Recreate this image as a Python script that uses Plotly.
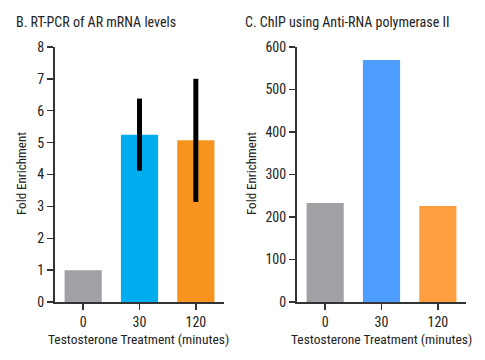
import plotly.graph_objects as go

categories = ["0", "30", "120"]
rt_pcr_values = [1.0, 5.25, 5.07]
rt_pcr_errors = [0, 1.13, 1.93]
chip_values = [233, 569, 226]

left_colors = ["#a1a0a5", "#00adef", "#f7941d"]
right_colors = ["#a1a0a5", "#4d9cff", "#ff9e40"]

FONT = "Roboto Condensed, Roboto, Arial, sans-serif"
AX = "#333333"
TXT = "#222222"
W, H = 485, 360
S = 0.955  # vertical compensation observed in the photographed page


def vy(y):
    return 180 + (y - 180) / S


fig = go.Figure()
fig.add_trace(go.Bar(
    x=categories, y=rt_pcr_values, marker=dict(color=left_colors, line=dict(width=0)),
    width=0.66,
    error_y=dict(type="data", array=rt_pcr_errors, color="black", thickness=5, width=0, visible=True),
    xaxis="x", yaxis="y", showlegend=False))
fig.add_trace(go.Bar(
    x=categories, y=chip_values, marker=dict(color=right_colors, line=dict(width=0)),
    width=0.66, xaxis="x2", yaxis="y2", showlegend=False))

y_dom = [(H - vy(302)) / H, (H - vy(47)) / H]
common_x = dict(type="category", range=[-0.5, 2.5], showline=True, linecolor=AX, linewidth=2,
                ticks="outside", ticklen=6, tickcolor=AX, tickwidth=1.5,
                tickfont=dict(family=FONT, size=14, color=TXT),
                showgrid=False, zeroline=False, fixedrange=True)
common_y = dict(showline=True, linecolor=AX, linewidth=2, ticks="outside", ticklen=6, tickcolor=AX,
                tickwidth=1.5, tickfont=dict(family=FONT, size=14, color=TXT),
                showgrid=False, zeroline=False)


def ann(text, x, y, size, angle=0, xanchor="center"):
    return dict(text=text, x=x / W, y=1 - vy(y) / H, xref="paper", yref="paper",
                xanchor=xanchor, yanchor="middle", showarrow=False, textangle=angle,
                font=dict(family=FONT, size=size, color=TXT))


fig.update_layout(
    width=W, height=H, margin=dict(l=0, r=0, t=0, b=0),
    paper_bgcolor="white", plot_bgcolor="white",
    xaxis=dict(domain=[55 / W, 224 / W], anchor="y", **common_x),
    yaxis=dict(domain=y_dom, anchor="x", range=[0, 8], dtick=1, **common_y),
    xaxis2=dict(domain=[297 / W, 466 / W], anchor="y2", **common_x),
    yaxis2=dict(domain=y_dom, anchor="x2", range=[0, 600], dtick=100, **common_y),
    annotations=[
        ann("B. RT-PCR of AR mRNA levels", 14, 22, 14, xanchor="left"),
        ann("C. ChIP using Anti-RNA polymerase II", 243, 22, 14, xanchor="left"),
        ann("Fold Enrichment", 22, 174, 13, angle=-90),
        ann("Fold Enrichment", 252, 174, 13, angle=-90),
        ann("Testosterone Treatment (minutes)", 138, 339, 13.5),
        ann("Testosterone Treatment (minutes)", 381, 339, 13.5),
    ],
)

fig.write_html(
    "out.html",
    config={"displayModeBar": False, "staticPlot": True},
    post_script=(
        "document.documentElement.style.margin='0';"
        "document.documentElement.style.overflow='hidden';"
        "document.body.style.margin='0';document.body.style.padding='0';"
        "document.body.style.overflow='hidden';"
        "var gd=document.getElementById('{plot_id}');"
        "gd.style.position='fixed';gd.style.left='0px';gd.style.top='0px';"
    ),
)
